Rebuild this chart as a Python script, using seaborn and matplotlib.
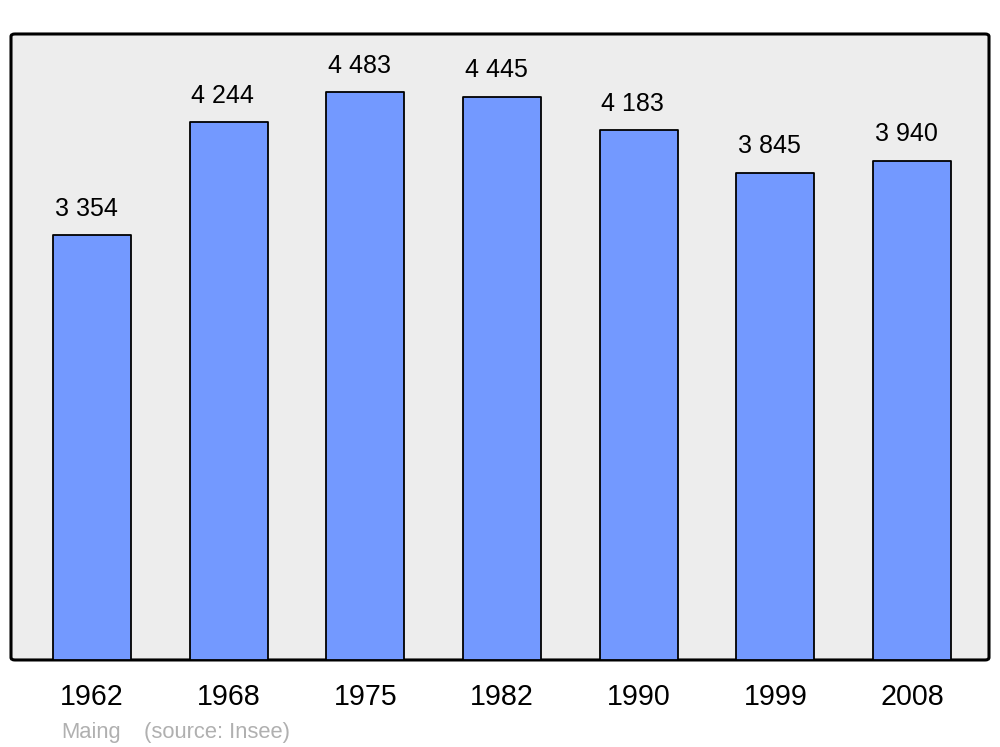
import matplotlib
matplotlib.use("Agg")
import matplotlib.pyplot as plt
from matplotlib.patches import FancyBboxPatch
import seaborn as sns
import pandas as pd

years = ["1962", "1968", "1975", "1982", "1990", "1999", "2008"]
population = [3354, 4244, 4483, 4445, 4183, 3845, 3940]
place = "Maing"
source = "(source: Insee)"

sns.set_style("white")
plt.rcParams["font.family"] = ["Liberation Sans", "DejaVu Sans"]

df = pd.DataFrame({"year": years, "pop": population})

fig = plt.figure(figsize=(10, 7.47), dpi=100)
ax = fig.add_axes([0.011, 0.1165, 0.978, 0.838])

sns.barplot(data=df, x="year", y="pop", color="#7399ff", saturation=1,
            width=0.57, edgecolor="black", linewidth=1.3, ax=ax, zorder=2)
for p in ax.patches:
    p.set_joinstyle("round")

ax.set_xlim(-0.593, 6.563)
ax.set_ylim(0, 4941)
ax.set_facecolor("none")
for s in ax.spines.values():
    s.set_visible(False)

# rounded frame with grey fill
frame = FancyBboxPatch((0, 0), 1, 1, boxstyle="round,pad=0,rounding_size=0.004",
                       transform=ax.transAxes, facecolor="#ededed",
                       edgecolor="black", linewidth=2.2, zorder=0, clip_on=False)
ax.add_patch(frame)

for i, v in enumerate(population):
    ax.annotate(f"{v:,}".replace(",", " "), (i, v), xytext=(-4.3, 14.0),
                textcoords="offset points", ha="center", va="baseline",
                fontsize=18, color="black")

ax.set_xlabel("")
ax.set_ylabel("")
ax.set_yticks([])
ax.tick_params(axis="x", length=0, pad=16.6, labelsize=20.6, labelcolor="black")

fig.text(0.061, 0.0115, place, fontsize=15.8, color="#b0b0b0", va="baseline")
fig.text(0.144, 0.0115, source, fontsize=15.8, color="#b0b0b0", va="baseline")

fig.savefig("out.png", dpi=100)
